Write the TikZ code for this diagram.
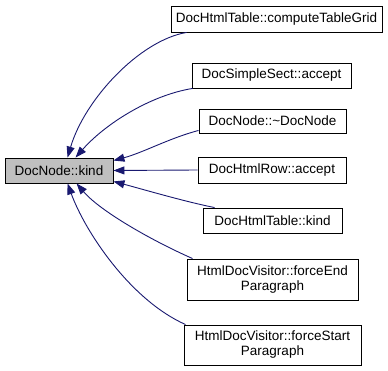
\documentclass[tikz,border=0pt]{standalone}
\usepackage{fontspec}
\setmainfont{Liberation Sans}
\usepackage{xcolor}
\usepackage{tikz}
\usetikzlibrary{arrows.meta}
\definecolor{edgeblue}{HTML}{191970}
\definecolor{nodegray}{HTML}{BFBFBF}

\begin{document}
\begin{tikzpicture}[x=1pt,y=-1pt,
    fn/.style={draw=black,line width=0.9pt,inner sep=0pt,align=center,
      font=\fontsize{13.5}{15}\selectfont},
    caller/.style={draw=edgeblue,line width=0.9pt,
      -{Triangle[length=11pt,width=8pt]}}]
    \useasboundingbox (0,0) rectangle (388,371);

    \node[fn,fill=nodegray,minimum width=108pt,minimum height=25pt] (kind) at (59,170.5) {DocNode::kind};

    \node[fn,minimum width=211pt,minimum height=26pt] (grid) at (276.5,19) {DocHtmlTable::computeTableGrid};
    \node[fn,minimum width=159pt,minimum height=25pt] (sect) at (271.5,75.5) {DocSimpleSect::accept};
    \node[fn,minimum width=147pt,minimum height=24pt] (dtor) at (272.5,121) {DocNode::\textasciitilde DocNode};
    \node[fn,minimum width=148pt,minimum height=26pt] (row) at (272,170) {DocHtmlRow::accept};
    \node[fn,minimum width=139pt,minimum height=25pt] (tkind) at (272.5,220.5) {DocHtmlTable::kind};
    \node[fn,minimum width=171pt,minimum height=41pt] (pend) at (272.5,279.5) {HtmlDocVisitor::forceEnd\\Paragraph};
    \node[fn,minimum width=177pt,minimum height=40pt] (pstart) at (272.5,345) {HtmlDocVisitor::forceStart\\Paragraph};

    % callers -> DocNode::kind
    \draw[caller] ([xshift=16pt]grid.south west) .. controls +(-47,8) and +(17,-58) .. ([xshift=63pt]kind.north west);
    \draw[caller] ([xshift=1pt]sect.south west) .. controls +(-43,7) and +(29,-33) .. ([xshift=71pt]kind.north west);
    \draw[caller] ([yshift=3pt]dtor.south west) .. controls +(-30,8) and +(30,-8) .. ([yshift=-3pt]kind.north east);
    \draw[caller] (row.west) -- (kind.east);
    \draw[caller] ([xshift=12pt]tkind.north west) .. controls +(-30,-6) and +(30,8) .. ([yshift=2pt]kind.south east);
    \draw[caller] ([xshift=6pt]pend.north west) .. controls +(-43,-19) and +(23,27) .. ([xshift=72pt]kind.south west);
    \draw[caller] ([xshift=2pt]pstart.north west) .. controls +(-56,-25) and +(17,47) .. ([xshift=63pt]kind.south west);
\end{tikzpicture}
\end{document}
